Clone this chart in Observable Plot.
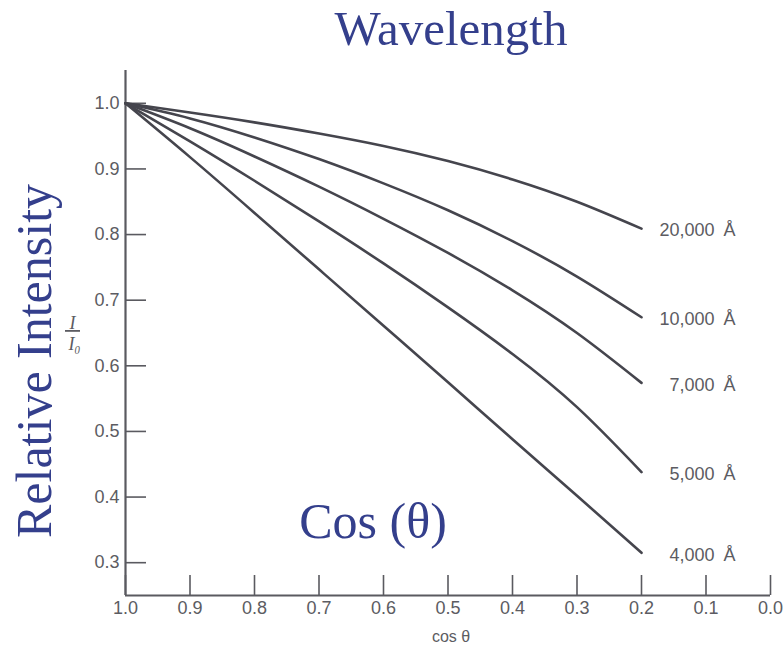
<!DOCTYPE html>
<html>
<head>
<meta charset="utf-8">
<script src="https://cdn.jsdelivr.net/npm/d3@7"></script>
<script src="https://cdn.jsdelivr.net/npm/@observablehq/plot@0.6"></script>
<style>
  html, body { margin: 0; padding: 0; background: #fff; }
  #chart svg { display: block; }
</style>
</head>
<body>
<div id="chart"></div>
<script>
// cos(theta) sample positions
const cosTheta = [1.0, 0.9, 0.8, 0.7, 0.6, 0.5, 0.4, 0.3, 0.2];
// relative intensity I/I0 per wavelength
const i20000 = [1.0, 0.986, 0.971, 0.954, 0.935, 0.912, 0.884, 0.850, 0.809];
const i10000 = [1.0, 0.977, 0.948, 0.915, 0.878, 0.837, 0.790, 0.736, 0.674];
const i7000  = [1.0, 0.962, 0.919, 0.873, 0.824, 0.772, 0.715, 0.650, 0.574];
const i5000  = [1.0, 0.942, 0.882, 0.820, 0.756, 0.689, 0.618, 0.537, 0.438];
const i4000  = [1.0, 0.918, 0.833, 0.747, 0.661, 0.575, 0.488, 0.402, 0.315];
const seriesNames = ["20,000\u2002Å", "10,000\u2002Å", "7,000\u2002Å", "5,000\u2002Å", "4,000\u2002Å"];
const seriesValues = [i20000, i10000, i7000, i5000, i4000];
// axes
const xTicks = [1.0, 0.9, 0.8, 0.7, 0.6, 0.5, 0.4, 0.3, 0.2, 0.1, 0.0];
const yTicks = [0.3, 0.4, 0.5, 0.6, 0.7, 0.8, 0.9, 1.0];
const xDomain = [1.0, 0.0];
const yDomain = [0.25, 1.05];

const data = [];
seriesNames.forEach((name, s) => {
  cosTheta.forEach((c, i) => data.push({name, x: c, y: seriesValues[s][i]}));
});
const ends = data.filter(d => d.x === cosTheta[cosTheta.length - 1]);

const lineColor = "#45454d";
const axisColor = "#5a5a60";
const textGray = "#5c5c62";
const blue = "#343f8c";
const tickFont = "Liberation Sans, Arial, sans-serif";
const serif = "Liberation Serif, Times New Roman, serif";

const chart = Plot.plot({
  width: 783,
  height: 647,
  marginLeft: 125,
  marginRight: 13,
  marginTop: 70,
  marginBottom: 52,
  style: {fontFamily: tickFont, background: "#fff"},
  x: {domain: xDomain, label: null},
  y: {domain: yDomain, label: null},
  marks: [
    Plot.axisY({ticks: yTicks, tickSize: -21, tickPadding: 27, tickFormat: d3.format(".1f"),
      stroke: axisColor, fill: textGray, fontSize: 18, strokeWidth: 1.6, label: null}),
    Plot.axisX({ticks: xTicks, tickSize: -20, tickPadding: 26, tickFormat: d3.format(".1f"),
      stroke: axisColor, fill: textGray, fontSize: 18, strokeWidth: 1.6, label: null}),
    Plot.ruleX([xDomain[0]], {stroke: axisColor, strokeWidth: 2.2}),
    Plot.ruleY([yDomain[0]], {stroke: axisColor, strokeWidth: 2.2}),
    Plot.line(data, {x: "x", y: "y", z: "name", stroke: lineColor, strokeWidth: 2.6, curve: "natural"}),
    Plot.text(ends, {x: "x", y: "y", text: "name", textAnchor: "end", dx: 94, dy: 2,
      fontSize: 18, fill: textGray}),
    // y label I / I0 (numerator underlined as the fraction bar)
    Plot.text(["\u00A0I\u00A0"], {frameAnchor: "left", textAnchor: "middle", lineAnchor: "bottom",
      dx: -53, dy: -4, fontSize: 18, fontStyle: "italic", fontFamily: serif, fill: textGray}),
    Plot.text(["I\u2080"], {frameAnchor: "left", textAnchor: "middle", lineAnchor: "top",
      dx: -51, dy: 4, fontSize: 18, fontStyle: "italic", fontFamily: serif, fill: textGray}),
    // x label cos θ
    Plot.text(["cos \u03B8"], {frameAnchor: "bottom", textAnchor: "middle", dx: 3, dy: 46, lineAnchor: "bottom",
      fontSize: 16, fill: textGray}),
    // overlaid blue annotations
    Plot.text(["Wavelength"], {frameAnchor: "top", textAnchor: "middle", dx: 3, dy: -26, lineAnchor: "bottom",
      fontSize: 49, fontFamily: serif, fill: blue}),
    Plot.text(["Relative Intensity"], {frameAnchor: "left", textAnchor: "middle", dx: -75, dy: 28, rotate: -90,
      lineAnchor: "bottom", fontSize: 50, fontFamily: serif, fill: blue}),
    Plot.text(["Cos (\u03B8)"], {frameAnchor: "bottom", textAnchor: "middle", dx: -75, dy: -58, lineAnchor: "bottom",
      fontSize: 50, fontFamily: serif, fill: blue})
  ]
});
// the numerator's underline forms the fraction bar of I/I0
d3.select(chart).selectAll("text")
  .filter(function() { return this.textContent === "\u00A0I\u00A0"; })
  .style("text-decoration", "underline");
document.getElementById("chart").appendChild(chart);
</script>
</body>
</html>
